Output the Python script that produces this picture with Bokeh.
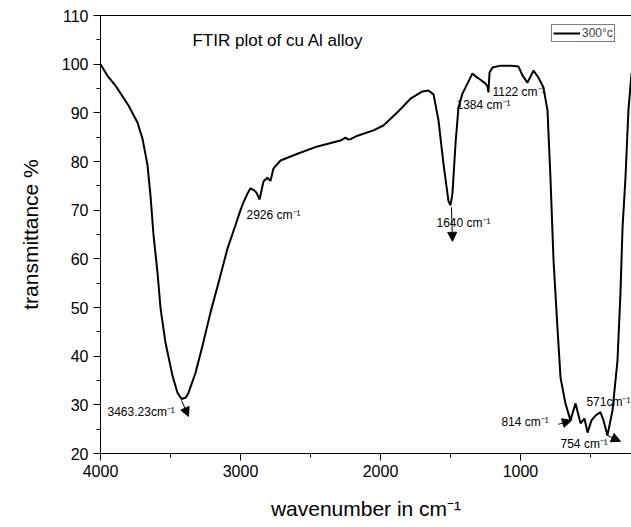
from bokeh.plotting import figure
from bokeh.models import (Range1d, LinearAxis, Label, Arrow, NormalHead, Legend,
                          LegendItem, SingleIntervalTicker, FixedTicker,
                          ColumnDataSource)
from bokeh.core.properties import value
from bokeh.embed import file_html
from bokeh.resources import INLINE

# ---- data ----
wavenumber = [4000, 3950, 3893, 3800, 3736, 3700, 3664, 3643, 3621, 3593, 3571,
              3536, 3486, 3450, 3421, 3390, 3371, 3321, 3271, 3214, 3157, 3093,
              3036, 3000, 2979, 2950, 2929, 2900, 2886, 2864, 2836, 2807, 2786,
              2764, 2714, 2593, 2450, 2286, 2250, 2230, 2214, 2164, 2050, 1979,
              1879, 1786, 1700, 1657, 1621, 1586, 1550, 1514, 1500, 1486, 1464,
              1443, 1414, 1379, 1343, 1321, 1286, 1250, 1236, 1229, 1221, 1200,
              1143, 1071, 1014, 986, 950, 907, 871, 836, 807, 786, 764, 736, 714,
              679, 643, 607, 571, 543, 521, 493, 464, 429, 407, 379, 343, 307,
              286, 271, 250, 229, 207]
transmittance = [100.0, 97.6, 95.6, 91.5, 88.0, 84.7, 79.2, 73.0, 64.8, 57.2, 49.8,
                 42.8, 36.0, 32.5, 31.2, 31.5, 32.5, 36.6, 42.2, 49.0, 55.1, 62.1,
                 66.9, 70.0, 71.6, 73.4, 74.5, 74.0, 73.6, 72.2, 75.9, 76.7, 76.0,
                 78.6, 80.2, 81.6, 83.1, 84.3, 84.9, 84.5, 84.6, 85.3, 86.4, 87.4,
                 90.1, 92.9, 94.4, 94.6, 93.8, 88.5, 79.5, 71.8, 71.0, 73.4, 83.7,
                 91.1, 94.0, 96.0, 98.1, 97.5, 96.8, 96.0, 95.5, 94.2, 98.3, 99.3,
                 99.7, 99.7, 99.5, 97.7, 96.2, 98.7, 97.2, 95.2, 90.5, 76.7, 59.7,
                 45.9, 35.6, 30.3, 26.8, 30.3, 26.2, 27.2, 24.3, 26.8, 27.8, 28.5,
                 26.8, 23.7, 28.8, 39.1, 52.9, 66.4, 76.7, 90.5, 98.1]

series_name = "300\u00b0c"
chart_title = "FTIR plot of cu Al alloy"
x_title = "wavenumber in cm\u207b\u00b9"
y_title = "transmittance %"

# peak annotations: text, text position (wavenumber, %)
peak_labels = ["3463.23cm\u207b\u00b9", "2926 cm\u207b\u00b9", "1640 cm\u207b\u00b9",
               "1384 cm\u207b\u00b9", "1122 cm\u207b\u00b9", "814 cm\u207b\u00b9",
               "754 cm\u207b\u00b9", "571cm\u207b\u00b9"]
peak_label_x = [3950, 2957, 1600, 1457, 1200, 1136, 714, 529]
peak_label_y = [28.6, 69.1, 67.3, 91.7, 94.2, 26.4, 21.9, 30.5]

# arrows: start (x, y) -> end (x, y)
arrow_x0 = [3421, 1493, 729, 379]
arrow_y0 = [30.9, 70.6, 26.0, 23.7]
arrow_x1 = [3371, 1486, 636, 286]
arrow_y1 = [27.6, 63.6, 26.8, 22.5]

FONT = "Liberation Sans"

p = figure(width=631, height=527, output_backend="svg", toolbar_location=None,
           x_range=Range1d(4000, 207), y_range=Range1d(20, 110),
           min_border_left=100, min_border_right=0, min_border_top=15,
           min_border_bottom=74, outline_line_color=None,
           background_fill_color="white", border_fill_color="white")
p.grid.visible = False

r = p.line(wavenumber, transmittance, line_color="black", line_width=2)

for ax in (p.xaxis[0], p.yaxis[0]):
    ax.axis_line_color = "black"
    ax.axis_line_width = 1
    ax.major_tick_line_color = "black"
    ax.minor_tick_line_color = "black"
    ax.major_tick_in = 0
    ax.major_tick_out = 7
    ax.minor_tick_in = 0
    ax.minor_tick_out = 4
    ax.major_label_text_font = FONT
    ax.major_label_text_font_size = "16px"
    ax.major_label_text_color = "black"
    ax.axis_label_text_font = FONT
    ax.axis_label_text_font_style = "normal"
    ax.axis_label_text_font_size = "21px"
    ax.axis_label_text_color = "black"

p.xaxis[0].ticker = SingleIntervalTicker(interval=1000, num_minor_ticks=2)
p.yaxis[0].ticker = SingleIntervalTicker(interval=10, num_minor_ticks=2)
p.xaxis[0].axis_label = x_title
p.yaxis[0].axis_label = y_title
p.xaxis[0].major_label_standoff = 4
p.xaxis[0].axis_label_standoff = 17
p.yaxis[0].major_label_standoff = 5
p.yaxis[0].axis_label_standoff = 17

top = LinearAxis(ticker=FixedTicker(ticks=[]), major_tick_out=0,
                 major_tick_in=0, minor_tick_out=0, minor_tick_in=0,
                 major_label_standoff=0, axis_line_color="black")
p.add_layout(top, "above")

p.add_layout(Label(x=3343, y=104.9, text=chart_title, text_font=FONT,
                   text_font_size="17px", text_baseline="middle",
                   text_color="black"))

src = ColumnDataSource(dict(x=peak_label_x, y=peak_label_y, t=peak_labels))
p.text(x="x", y="y", text="t", source=src, text_font=value(FONT),
       text_font_size="12px", text_baseline="middle", text_align="left",
       text_color="black")

for x0, y0, x1, y1 in zip(arrow_x0, arrow_y0, arrow_x1, arrow_y1):
    p.add_layout(Arrow(x_start=x0, y_start=y0, x_end=x1, y_end=y1,
                       line_color="black", line_width=1,
                       end=NormalHead(size=9, fill_color="black",
                                      line_color="black")))

legend = Legend(items=[LegendItem(label=series_name, renderers=[r])],
                location=(451, 411), padding=1, margin=0, spacing=0,
                glyph_width=27, glyph_height=12, label_height=12,
                label_standoff=2, label_text_font=FONT,
                label_text_font_size="12px", border_line_color="black",
                border_line_width=1, background_fill_alpha=1)
p.add_layout(legend)

open("out.html", "w").write(file_html(p, INLINE))
